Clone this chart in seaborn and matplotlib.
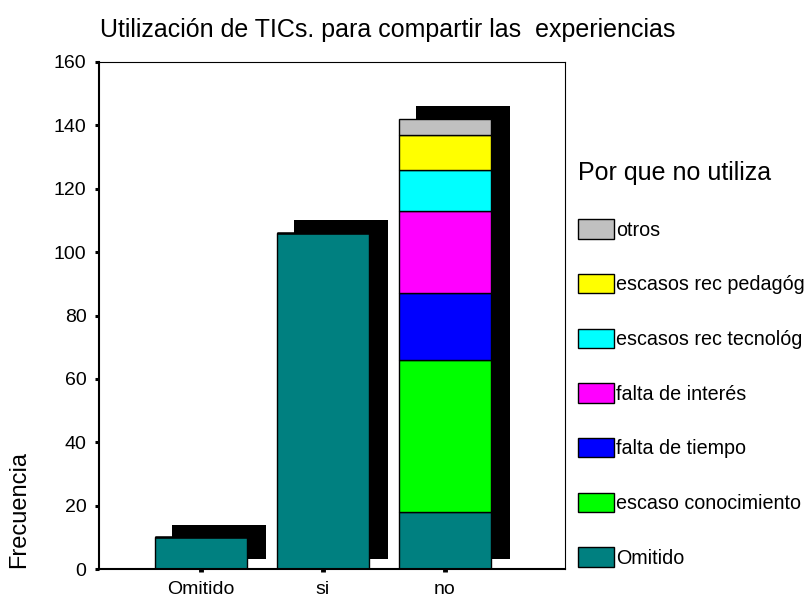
import numpy as np
import pandas as pd
import matplotlib
matplotlib.use("Agg")
import matplotlib.pyplot as plt
import seaborn as sns

# Answers to "uses ICT to share experiences" and the reason given for not using it
uso = ["Omitido", "si", "no"]
motivos = ["otros", "escasos rec pedagóg", "escasos rec tecnológ",
           "falta de interés", "falta de tiempo", "escaso conocimiento", "Omitido"]
colores = ["#C0C0C0", "#FFFF00", "#00FFFF", "#FF00FF", "#0000FF", "#00FF00", "#008080"]

# Counts per reason, one value per answer (Omitido, si, no)
otros = [0, 0, 5]
escasos_rec_pedagog = [0, 0, 11]
escasos_rec_tecnolog = [0, 0, 13]
falta_de_interes = [0, 0, 26]
falta_de_tiempo = [0, 0, 21]
escaso_conocimiento = [0, 0, 48]
omitido = [10, 106, 18]

conteos = [otros, escasos_rec_pedagog, escasos_rec_tecnolog, falta_de_interes,
           falta_de_tiempo, escaso_conocimiento, omitido]

filas = []
for motivo, valores in zip(motivos, conteos):
    for u, n in zip(uso, valores):
        filas.append({"uso": u, "motivo": motivo, "n": n})
df = pd.DataFrame(filas)

sns.set_style("white")
plt.rcParams["font.family"] = ["Liberation Sans", "DejaVu Sans"]
plt.rcParams["text.color"] = "black"
plt.rcParams["xtick.color"] = "black"
plt.rcParams["ytick.color"] = "black"
plt.rcParams["axes.labelcolor"] = "black"

W, H = 812, 597
fig = plt.figure(figsize=(W / 100, H / 100), dpi=100)
ax = fig.add_axes([99 / W, 1 - 569 / H, (565 - 99) / W, (569 - 62) / H])

sns.histplot(data=df, x="uso", hue="motivo", weights="n", multiple="stack",
             hue_order=motivos, palette=dict(zip(motivos, colores)),
             shrink=0.75, alpha=1, edgecolor="black", linewidth=1.0, ax=ax,
             zorder=2)

# Black drop shadow behind each bar, offset right and up
totales = df.groupby("uso", sort=False)["n"].sum().reindex(uso).to_numpy()
pos = np.arange(len(uso))
ax.bar(pos + 0.15, totales + 1, bottom=3, width=0.77, color="black",
       linewidth=0, zorder=1)

ax.set_xlim(-0.836, 2.984)
ax.set_ylim(0, 160)
ax.set_yticks(np.arange(0, 161, 20))
ax.set_xticks(pos)
ax.set_xticklabels(uso)
ax.set_xlabel("")
ax.set_ylabel("")

for s in ["left", "bottom"]:
    ax.spines[s].set_linewidth(1.5)
for s in ["top", "right"]:
    ax.spines[s].set_linewidth(0.8)
for s in ax.spines.values():
    s.set_color("black")

ax.tick_params(axis="y", left=True, direction="out", length=3, width=2.2,
               labelsize=14, pad=6, color="black", labelcolor="black")
ax.tick_params(axis="x", bottom=True, direction="out", length=2.5, width=3.5,
               labelsize=14, pad=6, color="black", labelcolor="black")

fig.text(388 / W, 1 - 30 / H, "Utilización de TICs. para compartir las  experiencias",
         ha="center", va="center", fontsize=18, color="black")
fig.text(19 / W, 1 - 510 / H, "Frecuencia", rotation=90,
         ha="center", va="center", fontsize=17, color="black")

sns.move_legend(ax, loc="upper left", bbox_to_anchor=(578 / W, 1 - 161 / H),
                bbox_transform=fig.transFigure, frameon=False,
                title="Por que no utiliza", title_fontsize=18, fontsize=14.2,
                handlelength=1.85, handleheight=1.13, handletextpad=0.1,
                labelspacing=1.74, borderpad=0, borderaxespad=0,
                alignment="left")
leg = ax.get_legend()
for h in leg.legend_handles:
    h.set_edgecolor("black")
    h.set_linewidth(1.0)
for t in leg.get_texts():
    t.set_color("black")
leg.get_title().set_color("black")

fig.savefig("out.png", dpi=100)
